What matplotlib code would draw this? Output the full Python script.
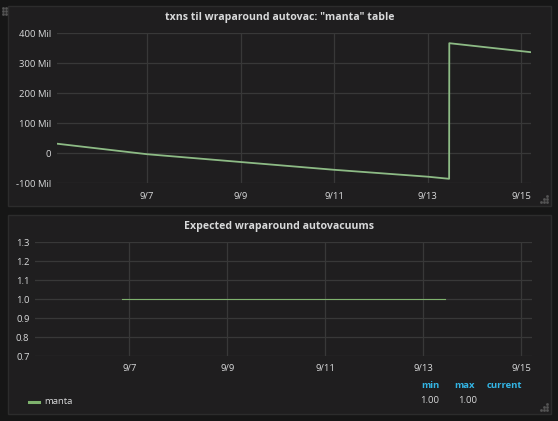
import datetime as dt
import matplotlib
matplotlib.use("Agg")
import matplotlib.pyplot as plt
import matplotlib.dates as mdates
from matplotlib.patches import Rectangle
from matplotlib.ticker import FuncFormatter, FixedLocator

plt.rcParams['font.family'] = ['Open Sans', 'DejaVu Sans']

# top panel: txns left until wraparound autovacuum (millions)
txn_times = ["2016-09-05 01:50", "2016-09-07 00:00", "2016-09-09 00:00", "2016-09-11 00:00",
             "2016-09-13 00:00", "2016-09-13 11:00", "2016-09-13 11:05", "2016-09-15 05:00"]
txn_mil = [32, -3, -29, -55, -78, -85, 367, 337]

# bottom panel: expected wraparound autovacuums
exp_times = ["2016-09-06 20:30", "2016-09-08 00:00", "2016-09-10 00:00", "2016-09-12 00:00",
             "2016-09-13 10:45"]
exp_vals = [1.0, 1.0, 1.0, 1.0, 1.0]

tick_days = ["2016-09-07", "2016-09-09", "2016-09-11", "2016-09-13", "2016-09-15"]
x_range = ["2016-09-05 01:50", "2016-09-15 05:00"]

BG = '#161616'
PANEL = '#1f1e1f'
BORDER = '#2c2c2c'
GRID = '#383838'
TEXT = '#d8d9da'
GREEN = '#7eb26d'
BLUE = '#33b5e5'


def to_num(lst):
    return [mdates.date2num(dt.datetime.fromisoformat(s)) for s in lst]


def md(x, pos):
    d = mdates.num2date(x)
    return f"{d.month}/{d.day}"


fig = plt.figure(figsize=(5.58, 4.21), dpi=100, facecolor=BG)
W, H = 558, 421

# panel boxes
for (x0, y0, x1, y1) in [(8, 6, 551, 206), (8, 215, 551, 414)]:
    fig.patches.append(Rectangle((x0 / W, 1 - y1 / H), (x1 - x0) / W, (y1 - y0) / H,
                                 transform=fig.transFigure, facecolor=PANEL,
                                 edgecolor=BORDER, linewidth=1, zorder=-1))


def style(ax):
    ax.set_zorder(2)
    ax.set_facecolor('none')
    for s in ax.spines.values():
        s.set_visible(False)
    ax.tick_params(length=0, colors=TEXT, labelsize=6.8)
    ax.grid(True, color=GRID, linewidth=0.9)
    ax.set_axisbelow(True)
    ax.set_xlim(to_num(x_range))
    ax.xaxis.set_major_locator(FixedLocator(to_num(tick_days)))
    ax.xaxis.set_major_formatter(FuncFormatter(md))
    ax.tick_params(axis='x', pad=6)
    ax.tick_params(axis='y', pad=4)


# top chart
ax1 = fig.add_axes([57 / W, 1 - 183.3 / H, (531 - 57) / W, 150 / H])
style(ax1)
ax1.plot(to_num(txn_times), txn_mil, color='#8dbb85', linewidth=1.3)
ax1.set_ylim(-100, 400)
ax1.set_yticks([-100, 0, 100, 200, 300, 400])
ax1.yaxis.set_major_formatter(FuncFormatter(lambda v, p: "0" if v == 0 else f"{int(v)} Mil"))
fig.text(279.5 / W, 1 - 17.5 / H, 'txns til wraparound autovac: "manta" table',
         ha='center', va='center', color=TEXT, fontsize=7.6, fontweight='bold')

# bottom chart
ax2 = fig.add_axes([35 / W, 1 - 356 / H, (531.7 - 35) / W, (356 - 242.3) / H])
style(ax2)
ax2.plot(to_num(exp_times), exp_vals, color=GREEN, linewidth=0.8)
ax2.set_ylim(0.7, 1.3)
ax2.set_yticks([0.7, 0.8, 0.9, 1.0, 1.1, 1.2, 1.3])
ax2.yaxis.set_major_formatter(FuncFormatter(lambda v, p: f"{v:.1f}"))
fig.text(279.5 / W, 1 - 226.5 / H, 'Expected wraparound autovacuums',
         ha='center', va='center', color=TEXT, fontsize=7.6, fontweight='bold')

# legend with min / max / current
fig.add_artist(plt.Line2D([29 / W, 39 / W], [1 - 402 / H, 1 - 402 / H], color=GREEN,
                          linewidth=2.2, transform=fig.transFigure))
fig.text(44.5 / W, 1 - 401.5 / H, 'manta', ha='left', va='center', color=TEXT, fontsize=6.8)
for label, xr in [('min', 439), ('max', 475), ('current', 522)]:
    fig.text(xr / W, 1 - 385.5 / H, label, ha='right', va='center', color=BLUE,
             fontsize=6.8, fontweight='bold')
for val, xr in [(min(exp_vals), 439), (max(exp_vals), 477)]:
    fig.text(xr / W, 1 - 400.5 / H, f"{val:.2f}", ha='right', va='center', color=TEXT,
             fontsize=6.8)

# drag / resize handle dots
for (px, py) in [(3, 8), (3, 11), (3, 14), (6, 8), (6, 11), (6, 14)]:
    fig.add_artist(plt.Line2D([px / W], [1 - py / H], marker='s', markersize=0.9,
                              color='#555555', transform=fig.transFigure))
for (bx, by) in [(547, 202), (547, 410)]:
    for (dx, dy) in [(0, 0), (-3, 0), (-6, 0), (0, -3), (-3, -3), (0, -6)]:
        fig.add_artist(plt.Line2D([(bx + dx) / W], [1 - (by + dy) / H], marker='s',
                                  markersize=0.9, color='#555555', transform=fig.transFigure))

fig.savefig("out.png", dpi=100, facecolor=BG)
